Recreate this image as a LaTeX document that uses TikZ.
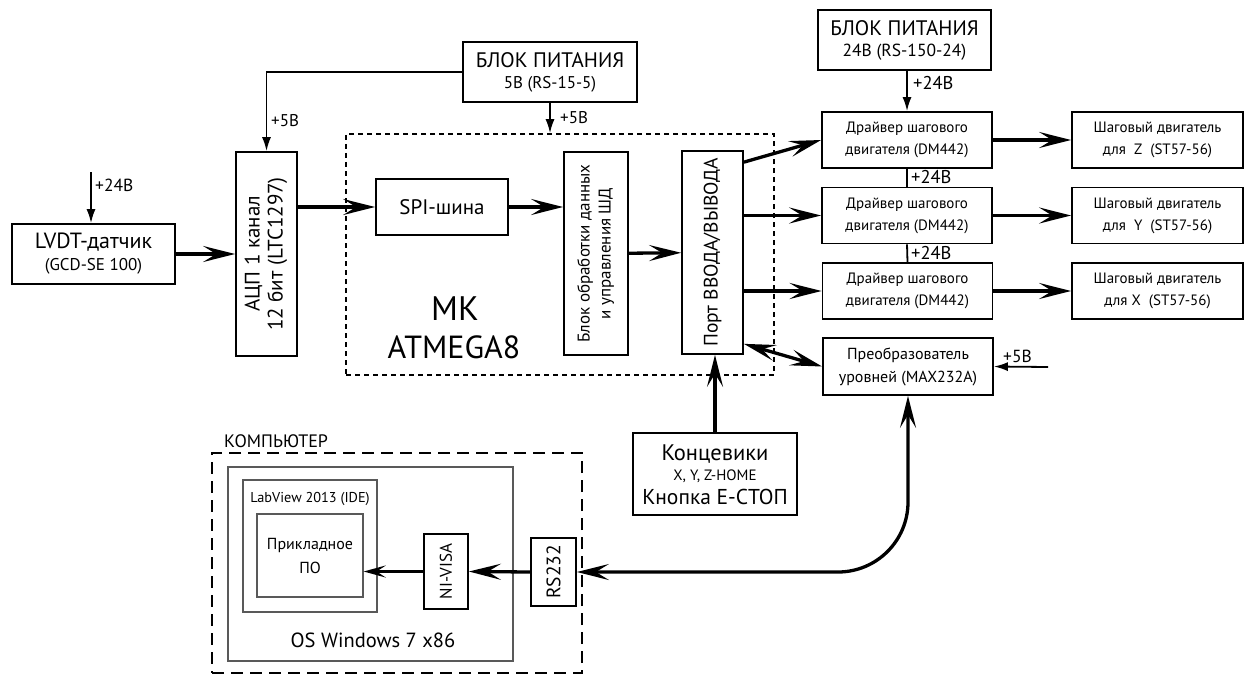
\documentclass[tikz,border=0pt]{standalone}
\usepackage{fontspec}
\usepackage{graphicx}
\setmainfont{PT Sans}
\usetikzlibrary{arrows.meta,calc}
\begin{document}
\begin{tikzpicture}[x=1pt,y=-1pt,
  box/.style={draw, line width=1.7pt, inner sep=0pt, align=center},
  graybox/.style={draw=black!65, line width=1.3pt, inner sep=0pt, align=center},
  bigarrow/.style={line width=3.3pt, -{Stealth[length=32pt,width=16pt,inset=13pt]}},
  bigboth/.style={line width=3.3pt, {Stealth[length=32pt,width=16pt,inset=13pt]}-{Stealth[length=32pt,width=16pt,inset=13pt]}},
  smallarrow/.style={line width=3pt, -{Stealth[length=22pt,width=12pt,inset=9pt]}},
  pwr/.style={line width=1.8pt, -{Latex[length=14pt,width=9pt]}},
  pwrline/.style={line width=1.8pt},
  lbl/.style={inner sep=0pt, anchor=west, font=\fontsize{17.5}{17.5}\selectfont}
]
\useasboundingbox (0,0) rectangle (1244,677);

% ---------- left part ----------
\node[box, minimum width=163pt, minimum height=60pt, font=\fontsize{22}{25}\selectfont] (lvdt) at (93.5,254)
  {LVDT-датчик\\[-3pt]{\fontsize{17}{17}\selectfont (GCD-SE 100)}};
\node[box, minimum width=61pt, minimum height=204pt] (adc) at (266.5,254)
  {\rotatebox{90}{\fontsize{21}{23}\selectfont\begin{tabular}{@{}c@{}}АЦП 1 канал\\12 бит (LTC1297)\end{tabular}}};
\node[box, minimum width=174pt, minimum height=60pt, font=\fontsize{21}{24}\selectfont] (psu5) at (550,72)
  {БЛОК ПИТАНИЯ\\[-3pt]{\fontsize{17}{17}\selectfont 5В (RS-15-5)}};

\coordinate (p24l) at (91,172);
\draw[pwr] (p24l) -- (p24l |- lvdt.north);
\node[lbl] at (95,185) {+24В};

\draw[pwr] (psu5.west) -| (adc.north);
\node[lbl, font=\fontsize{17}{17}\selectfont] at (271,121) {+5В};

% ---------- MK ----------
\node[draw, dashed, dash pattern=on 5pt off 4pt, line width=1.6pt, minimum width=428pt, minimum height=241pt, inner sep=0pt] (mk) at (560,254.5) {};
\draw[pwr] (psu5.south) -- (psu5.south |- mk.north);
\node[lbl, font=\fontsize{17}{17}\selectfont] at (560,118) {+5В};

\node[box, minimum width=132pt, minimum height=56pt, font=\fontsize{21}{22}\selectfont] (spi) at (442,207) {SPI-шина};
\node[box, minimum width=64pt, minimum height=203pt] (blk) at (596,253.5)
  {\rotatebox{90}{\fontsize{17}{21}\selectfont\begin{tabular}{@{}c@{}}Блок обработки данных\\и управления ШД\end{tabular}}};
\node[box, minimum width=61pt, minimum height=203pt] (port) at (712.5,252.5)
  {\rotatebox{90}{\fontsize{19.5}{22}\selectfont Порт ВВОДА/ВЫВОДА}};
\node[inner sep=0pt, font=\fontsize{34}{34}\selectfont] (mkt) at (455,309) {МК};
\node[inner sep=0pt, font=\fontsize{32}{32}\selectfont] (atm) at (454,347) {ATMEGA8};

\draw[bigarrow] (lvdt) -- (adc);
\draw[bigarrow] (adc.east |- spi.west) -- (spi.west);
\draw[bigarrow] (spi.east) -- (spi.east -| blk.west);
\draw[bigarrow] (blk) -- (port);

% ---------- right part ----------
\node[box, minimum width=173pt, minimum height=60pt, font=\fontsize{21}{24}\selectfont] (psu24) at (904.5,40)
  {БЛОК ПИТАНИЯ\\[-3pt]{\fontsize{17.5}{17.5}\selectfont 24В (RS-150-24)}};
\tikzset{drv/.style={box, minimum width=170pt, minimum height=56pt, font=\fontsize{15}{22}\selectfont}}
\node[drv] (drvZ) at (907,140) {Драйвер шагового\\двигателя (DM442)};
\node[drv] (drvY) at (907,215.5) {Драйвер шагового\\двигателя (DM442)};
\node[drv] (drvX) at (907.5,291) {Драйвер шагового\\двигателя (DM442)};
\node[drv, minimum width=171pt] (motZ) at (1157.5,140) {Шаговый двигатель\\для\ \ Z\ \ (ST57-56)};
\node[drv, minimum width=171pt] (motY) at (1157.5,215.5) {Шаговый двигатель\\для\ \ Y\ \ (ST57-56)};
\node[drv, minimum width=171pt] (motX) at (1157.5,291) {Шаговый двигатель\\для X\ \ (ST57-56)};
\node[drv, minimum height=57pt, font=\fontsize{16}{23}\selectfont] (max) at (908,366.5) {Преобразователь\\уровней (MAX232A)};

\draw[pwr] (psu24.south -| drvZ.north) -- (drvZ.north);
\node[lbl, font=\fontsize{18.5}{18.5}\selectfont] at (913,83) {+24В};
\draw[pwrline] (drvZ.south) -- (drvY.north);
\node[lbl, font=\fontsize{18.5}{18.5}\selectfont] at (911,177) {+24В};
\draw[pwrline] (drvY.south) -- (drvX.north);
\node[lbl, font=\fontsize{18.5}{18.5}\selectfont] at (911,252.5) {+24В};

\coordinate (p5m) at (1048,367);
\draw[pwr] (p5m) -- (max.east);
\node[lbl] at (1003,356) {+5В};

\draw[bigarrow] ([yshift=-12pt]port.north east) -- (drvZ.west);
\draw[bigarrow] (port.east |- drvY.west) -- (drvY.west);
\draw[bigarrow] (port.east |- drvX.west) -- (drvX.west);
\draw[bigboth] ([yshift=11pt]port.south east) -- (max.west);

\draw[bigarrow] (drvZ) -- (motZ);
\draw[bigarrow] (drvY) -- (motY);
\draw[bigarrow] (drvX) -- (motX);

% ---------- limit switches ----------
\node[box, minimum width=164pt, minimum height=82pt] (lim) at (715,474) {};
\node[inner sep=0pt, font=\fontsize{22.5}{22.5}\selectfont] (lim1) at (715,454) {Концевики};
\node[inner sep=0pt, font=\fontsize{15}{15}\selectfont] (lim2) at (715,476) {X, Y, Z-HOME};
\node[inner sep=0pt, font=\fontsize{21.5}{21.5}\selectfont] (lim3) at (715,497) {Кнопка E-СТОП};
\draw[bigarrow] (lim.north) -- (lim.north |- port.south);

% ---------- computer ----------
\node[draw, dashed, dash pattern=on 12pt off 7pt, line width=2pt, minimum width=370pt, minimum height=220pt, inner sep=0pt] (comp) at (397,563) {};
\node[inner sep=0pt, font=\fontsize{18}{18}\selectfont] (compt) at (276,441) {КОМПЬЮТЕР};
\node[graybox, minimum width=285pt, minimum height=194pt] (os) at (370.5,564) {};
\node[inner sep=0pt, font=\fontsize{20.5}{20.5}\selectfont] (ost) at (373,640) {OS Windows 7 x86};
\node[graybox, minimum width=134pt, minimum height=132pt] (lv) at (310,546) {};
\node[inner sep=0pt, font=\fontsize{14.3}{14.3}\selectfont] (lvt) at (310,499) {LabView 2013 (IDE)};
\node[graybox, minimum width=106pt, minimum height=83pt, font=\fontsize{16}{24}\selectfont] (app) at (310,555.5) {Прикладное\\ПО};
\node[box, minimum width=44pt, minimum height=75pt] (visa) at (446,571.5) {\rotatebox{90}{\fontsize{17}{17}\selectfont NI-VISA}};
\node[box, minimum width=45pt, minimum height=68pt] (rs) at (553.5,572) {\rotatebox{90}{\fontsize{19.5}{19.5}\selectfont RS232}};

\draw[bigarrow] (rs.west) -- (visa.east);
\draw[smallarrow] (visa.west) -- (visa.west -| app.east);
\draw[bigboth, rounded corners=70pt] (max.south) |- (rs.east);
\end{tikzpicture}
\end{document}
